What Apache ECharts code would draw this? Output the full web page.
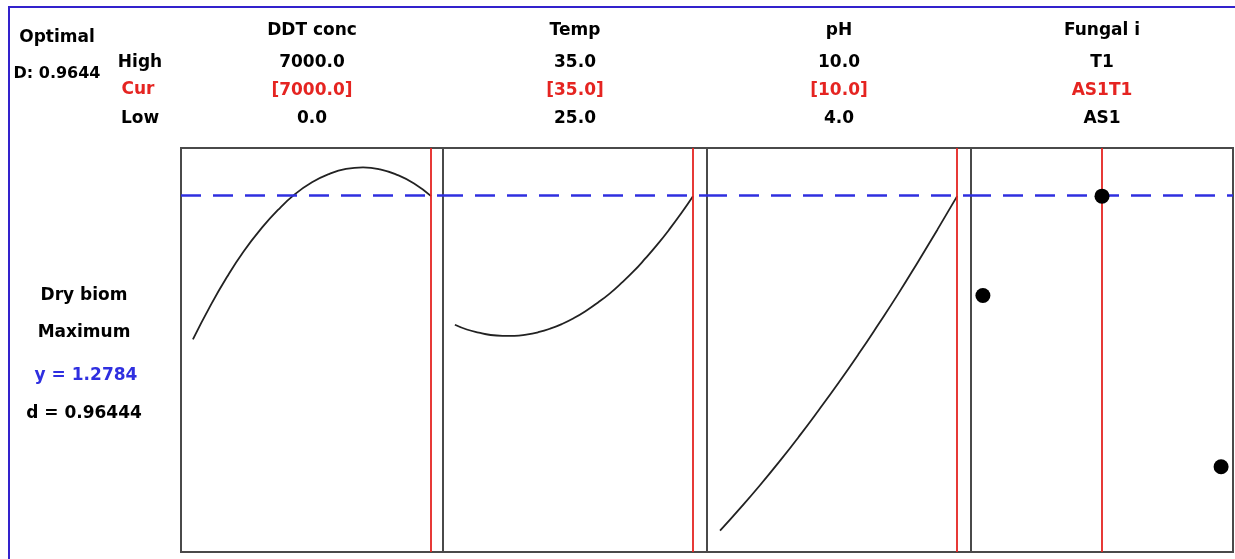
<!DOCTYPE html>
<html>
<head>
<meta charset="utf-8">
<script src="https://cdn.jsdelivr.net/npm/echarts@6/dist/echarts.min.js"></script>
<style>html,body{margin:0;padding:0;background:#fff}#c{width:1235px;height:559px}</style>
</head>
<body>
<div id="c"></div>
<script>
// ---- data ----
const factorNames = ['DDT conc', 'Temp', 'pH', 'Fungal i'];
const highLabels = ['7000.0', '35.0', '10.0', 'T1'];
const curLabels = ['[7000.0]', '[35.0]', '[10.0]', 'AS1T1'];
const lowLabels = ['0.0', '25.0', '4.0', 'AS1'];
const lowValues = [0, 25, 4, 0];
const highValues = [7000, 35, 10, 2];
const curValues = [7000, 35, 10, 1];

const ddtX = [0, 500, 1000, 1500, 2000, 2500, 3000, 3500, 4000, 4500, 5000, 5500, 6000, 6500, 7000];
const ddtY = [0.915, 0.998, 1.073, 1.139, 1.195, 1.243, 1.283, 1.313, 1.334, 1.347, 1.351, 1.346, 1.332, 1.310, 1.278];

const tempX = [25, 25.5, 26, 26.5, 27, 27.5, 28, 28.5, 29, 29.5, 30, 30.5, 31, 31.5, 32, 32.5, 33, 33.5, 34, 34.5, 35];
const tempY = [0.952, 0.940, 0.932, 0.926, 0.924, 0.924, 0.927, 0.933, 0.942, 0.954, 0.969, 0.987, 1.008, 1.031, 1.058, 1.087, 1.120, 1.155, 1.193, 1.234, 1.278];

const phX = [4, 4.5, 5, 5.5, 6, 6.5, 7, 7.5, 8, 8.5, 9, 9.5, 10];
const phY = [0.430, 0.486, 0.544, 0.605, 0.669, 0.736, 0.805, 0.877, 0.952, 1.029, 1.110, 1.193, 1.278];

const fungalCats = ['AS1', 'AS1T1', 'T1'];
const fungalY = [1.026, 1.278, 0.592];

const responseName = 'Dry biom';
const goalText = 'Maximum';
const yOptimal = 1.2784;
const dText = 'd = 0.96444';
const DText = 'D: 0.9644';

// ---- chart ----
const chart = echarts.init(document.getElementById('c'));
const FONT = 'bold 17px "DejaVu Sans"';
const RED = '#e52421';
const BLUE = '#2f2fe0';
const gridLefts = [181, 443, 707, 971];
const gridWidths = [262, 264, 264, 262];
const gridTop = 148, gridH = 404;
// axis extents (padding around low/high)
const axisMin = [-350, 24.5, 3.67, -0.1];
const axisMax = [7350, 35.59, 10.35, 2.1];

const grids = gridLefts.map((l, i) => ({
  left: l, top: gridTop, width: gridWidths[i], height: gridH,
  show: true, borderColor: '#4a4a4a', borderWidth: 2, backgroundColor: 'transparent'
}));

const xAxes = gridLefts.map((l, i) => ({
  type: 'value', gridIndex: i, min: axisMin[i], max: axisMax[i],
  show: false, splitLine: { show: false }
}));
const yAxes = gridLefts.map((l, i) => ({
  type: 'value', gridIndex: i, min: 0.376, max: 1.4,
  show: false, splitLine: { show: false }
}));

function marks(i) {
  return {
    silent: true, symbol: 'none', animation: false,
    label: { show: false },
    data: [
      { yAxis: yOptimal, lineStyle: { color: BLUE, width: 2.5, type: [20, 12] } },
      { xAxis: curValues[i], lineStyle: { color: RED, width: 1.8, type: 'solid' } }
    ]
  };
}

const curves = [
  ddtX.map((x, k) => [x, ddtY[k]]),
  tempX.map((x, k) => [x, tempY[k]]),
  phX.map((x, k) => [x, phY[k]])
];

const series = curves.map((d, i) => ({
  type: 'line', xAxisIndex: i, yAxisIndex: i, data: d,
  smooth: true, showSymbol: false, symbol: 'none',
  lineStyle: { color: '#222', width: 1.8 },
  markLine: marks(i), animation: false
}));
series.push({
  type: 'scatter', xAxisIndex: 3, yAxisIndex: 3,
  data: fungalCats.map((c, k) => [k, fungalY[k]]),
  symbolSize: 15, itemStyle: { color: '#000', opacity: 1 },
  markLine: marks(3), animation: false, z: 5
});

const texts = [];
function txt(s, x, y, fill, font) {
  texts.push({ type: 'text', silent: true, style: { text: s, x: x, y: y, align: 'center', verticalAlign: 'middle', font: font || FONT, fill: fill || '#000' } });
}
txt('Optimal', 57, 38);
txt(DText, 57, 74, null, 'bold 16px "DejaVu Sans"');
txt('High', 140, 63);
txt('Cur', 138, 90, RED);
txt('Low', 140, 119);
gridLefts.forEach((l, i) => {
  const cx = l + gridWidths[i] / 2;
  txt(factorNames[i], cx, 31);
  txt(highLabels[i], cx, 63);
  txt(curLabels[i], cx, 91, RED);
  txt(lowLabels[i], cx, 119);
});
txt(responseName, 84, 296);
txt(goalText, 84, 333);
txt('y = ' + yOptimal.toFixed(4), 86, 376, BLUE);
txt(dText, 84, 414);

texts.push({ type: 'rect', silent: true, shape: { x: 9, y: 7, width: 1240, height: 570 }, style: { fill: 'none', stroke: '#3322cc', lineWidth: 2 } });

chart.setOption({
  animation: false,
  backgroundColor: '#fff',
  grid: grids, xAxis: xAxes, yAxis: yAxes,
  series: series,
  graphic: texts
});
</script>
</body>
</html>
